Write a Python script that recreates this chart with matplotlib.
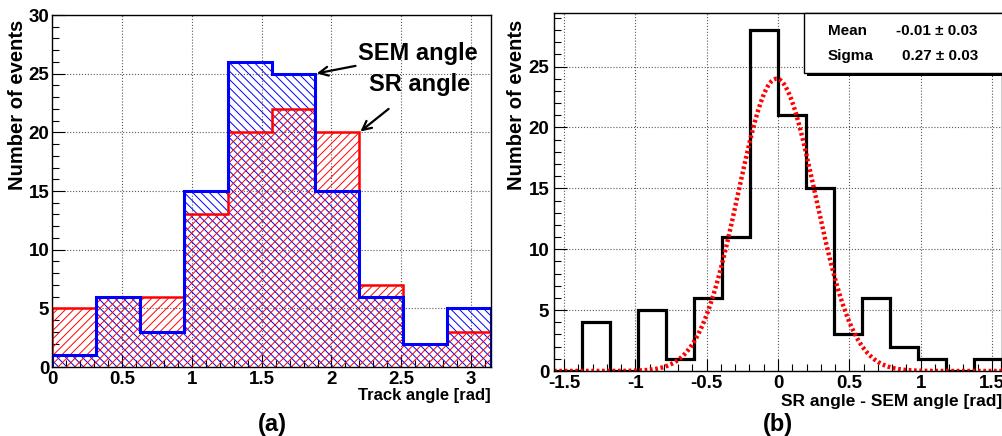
"""
Track angle histograms: (a) SEM vs SR angle, (b) SR - SEM difference with gaussian fit.
"""

import numpy as np
import matplotlib
matplotlib.use("Agg")
import matplotlib.pyplot as plt
from matplotlib.patches import Rectangle
from matplotlib.ticker import MultipleLocator, FormatStrFormatter

plt.rcParams["font.family"] = ["Liberation Sans", "DejaVu Sans"]
plt.rcParams["font.weight"] = "bold"
plt.rcParams["axes.unicode_minus"] = False
plt.rcParams["hatch.linewidth"] = 0.7

# panel (a): 10 bins over [0, pi]
angle_edges = np.linspace(0, np.pi, 11)
sr_counts = [5, 6, 6, 13, 20, 22, 20, 7, 2, 3]
sem_counts = [1, 6, 3, 15, 26, 25, 15, 6, 2, 5]

# panel (b): 16 bins over [-pi/2, pi/2]
diff_edges = np.linspace(-np.pi / 2, np.pi / 2, 17)
diff_counts = [0, 4, 0, 5, 1, 6, 11, 28, 21, 15, 3, 6, 2, 1, 0, 1]

# gaussian fit parameters (amplitude)
fit_amp = 24.0
fit_mean = -0.01
fit_sigma = 0.27
stat_rows = [("Mean", "-0.01 \u00b1 0.03"), ("Sigma", "0.27 \u00b1 0.03")]

W, H = 1003, 436
fig = plt.figure(figsize=(W / 100, H / 100), dpi=100)


def fx(px):
    return px / W


def fy(py):
    return 1 - py / H


def style_axes(ax, ypad):
    ax.grid(True, which="major", color="0.35", linestyle=":", linewidth=0.8)
    ax.set_axisbelow(True)
    ax.yaxis.set_major_locator(MultipleLocator(5))
    ax.yaxis.set_minor_locator(MultipleLocator(1))
    ax.xaxis.set_major_locator(MultipleLocator(0.5))
    ax.xaxis.set_minor_locator(MultipleLocator(0.1))
    ax.xaxis.set_major_formatter(FormatStrFormatter("%g"))
    ax.tick_params(which="both", direction="in", top=False, right=False,
                   labelsize=13.5)
    ax.tick_params(axis="y", pad=ypad)
    ax.tick_params(axis="x", pad=3)
    ax.tick_params(which="major", length=9, width=0.8)
    ax.tick_params(which="minor", length=5, width=0.8)
    for sp in ax.spines.values():
        sp.set_linewidth(1.0)
    for lab in ax.get_xticklabels() + ax.get_yticklabels():
        lab.set_fontweight("bold")


# ---- panel (a)
axa = fig.add_axes([fx(52), fy(367), fx(491 - 52), (367 - 15) / H])
axa.stairs(sem_counts, angle_edges, fill=True, facecolor="none",
           edgecolor="blue", hatch="\\\\\\\\", linewidth=0)
axa.stairs(sr_counts, angle_edges, fill=True, facecolor="none",
           edgecolor="red", hatch="////", linewidth=0)
axa.stairs(sr_counts, angle_edges, color="red", linewidth=1.8)
axa.stairs(sem_counts, angle_edges, color="blue", linewidth=2.2)
axa.set_xlim(0, np.pi)
axa.set_ylim(0, 30)
style_axes(axa, 2)
fig.text(fx(18), fy(20), "Number of events", rotation=90, ha="center",
         va="top", fontsize=14.5, fontweight="bold")
axa.text(1.0, -0.06, "Track angle [rad]", transform=axa.transAxes,
         ha="right", va="top", fontsize=12, fontweight="bold")
axa.annotate("SEM angle", xy=(angle_edges[6], sem_counts[5]),
             xytext=(2.62, 26.7), ha="center", va="center", fontsize=17,
             fontweight="bold",
             arrowprops=dict(arrowstyle="->", lw=1.6, color="black",
                             shrinkA=38, shrinkB=1, mutation_scale=16))
axa.annotate("SR angle", xy=(angle_edges[7], sr_counts[6]),
             xytext=(2.63, 24.1), ha="center", va="center", fontsize=17,
             fontweight="bold",
             arrowprops=dict(arrowstyle="->", lw=1.6, color="black",
                             shrinkA=12, shrinkB=1, mutation_scale=16))
fig.text(fx(272), fy(424), "(a)", ha="center", va="center", fontsize=17,
         fontweight="bold")

# ---- panel (b)
axb = fig.add_axes([fx(554), fy(371), fx(1002 - 554), (371 - 13) / H])
axb.stairs(diff_counts, diff_edges, color="black", linewidth=2.3)
xs = np.linspace(-np.pi / 2, np.pi / 2, 400)
gauss = fit_amp * np.exp(-0.5 * ((xs - fit_mean) / fit_sigma) ** 2)
axb.plot(xs, gauss, color="red", linewidth=3.2, linestyle=(0, (0.6, 0.6)),
         dash_capstyle="butt")
axb.set_xlim(-np.pi / 2, np.pi / 2)
axb.set_ylim(0, 29.4)
style_axes(axb, 3.5)
fig.text(fx(516), fy(20), "Number of events", rotation=90, ha="center",
         va="top", fontsize=14.5, fontweight="bold")
axb.text(1.0, -0.065, "SR angle - SEM angle [rad]", transform=axb.transAxes,
         ha="right", va="top", fontsize=12.5, fontweight="bold")
fig.text(fx(778), fy(424), "(b)", ha="center", va="center", fontsize=17,
         fontweight="bold")

# stat box with shadow
fig.patches.append(Rectangle((fx(807), fy(76)), fx(220), (76 - 16) / H,
                             transform=fig.transFigure, facecolor="black",
                             edgecolor="none", zorder=5))
fig.patches.append(Rectangle((fx(804), fy(73)), fx(220), (73 - 13) / H,
                             transform=fig.transFigure, facecolor="white",
                             edgecolor="black", linewidth=1.0, zorder=6))
for i, (name, val) in enumerate(stat_rows):
    y = fy(31 + i * 25)
    fig.text(fx(828), y, name, ha="left", va="center", fontsize=11,
             fontweight="bold", zorder=7)
    fig.text(fx(978), y, val, ha="right", va="center", fontsize=11,
             fontweight="bold", zorder=7)

fig.savefig("out.png", dpi=100)
